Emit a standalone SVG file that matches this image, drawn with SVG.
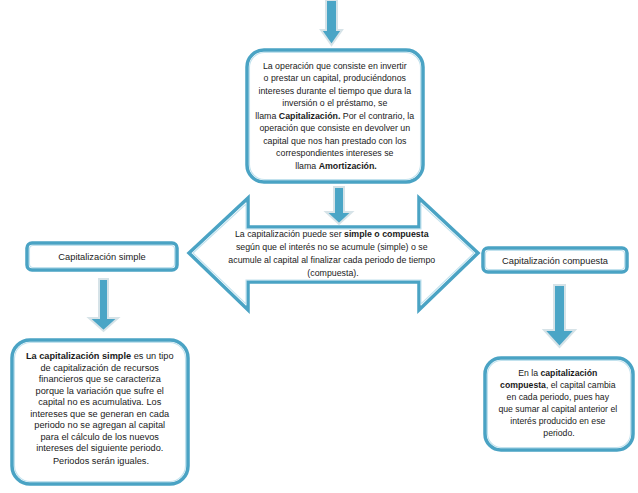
<svg xmlns="http://www.w3.org/2000/svg" width="638" height="493" viewBox="0 0 638 493">
<defs>
<style>
.box{fill:#ffffff;stroke:#4aa3c4;stroke-width:3.5}
.inner{fill:none;stroke:#c2e2ee;stroke-width:1.1}
.arr{fill:#4aa5c6;stroke:#d6e3e8;stroke-width:2;stroke-linejoin:miter}
.t{font-family:"Liberation Sans",Arial,sans-serif;fill:#1a1a1a;text-anchor:middle}
.b{font-weight:bold}
</style>
</defs>
<rect width="638" height="493" fill="#ffffff"/>
<g id="connectors">
<polygon class="arr" points="326,0 337,0 337,30 342,30 331.5,45 321,30 326,30"/>
<polygon class="arr" points="334,187 344,187 344,212 352,212 339,224 326,212 334,212"/>
<polygon class="arr" points="99,279 108,279 108,318 118,318 103.5,331 89,318 99,318"/>
<polygon class="arr" points="554,285 565,285 565,330 575,330 559.5,347 544,330 554,330"/>
</g>
<g id="node-top">
<rect class="box" x="247" y="50" width="176" height="132" rx="17"/>
<rect class="inner" x="249.5" y="52.5" width="171" height="127" rx="15"/>
<text class="t" font-size="8.8">
<tspan x="336" y="69">La operación que consiste en invertir</tspan>
<tspan x="336" y="81">o prestar un capital, produciéndonos</tspan>
<tspan x="336" y="93.5">intereses durante el tiempo que dura la</tspan>
<tspan x="336" y="106">inversión o el préstamo, se</tspan>
<tspan x="336" y="118.5">llama <tspan class="b">Capitalización.</tspan>  Por el contrario, la</tspan>
<tspan x="336" y="131">operación que consiste en devolver un</tspan>
<tspan x="336" y="143.5">capital que nos han prestado con los</tspan>
<tspan x="336" y="156">correspondientes intereses se</tspan>
<tspan x="336" y="168.5">llama <tspan class="b">Amortización.</tspan></tspan>
</text>
</g>
<g id="node-double-arrow">
<polygon class="box" points="189,253 248,198 248,227 419,227 419,198 478,253 419,310 419,282 248,282 248,310" stroke-linejoin="miter"/>
<polygon class="inner" points="193,253 246,204 246,229 421,229 421,204 474,253 421,304 421,280 246,280 246,304"/>
<text class="t" font-size="8.8">
<tspan x="333" y="237">La capitalización puede ser <tspan class="b">simple o compuesta</tspan></tspan>
<tspan x="333" y="250">según que el interés no se acumule (simple) o se</tspan>
<tspan x="333" y="263">acumule al capital al finalizar cada periodo de tiempo</tspan>
<tspan x="333" y="276">(compuesta).</tspan>
</text>
</g>
<g id="node-simple-label">
<rect class="box" x="27" y="243" width="150" height="27" rx="5"/>
<rect class="inner" x="29.5" y="245.5" width="145" height="22" rx="3.5"/>
<text class="t" font-size="9.3" x="102" y="260">Capitalización simple</text>
</g>
<g id="node-compuesta-label">
<rect class="box" x="483" y="248" width="144" height="24" rx="5"/>
<rect class="inner" x="485.5" y="250.5" width="139" height="19" rx="3.5"/>
<text class="t" font-size="9.3" x="555" y="263.5">Capitalización compuesta</text>
</g>
<g id="node-simple-desc">
<rect class="box" x="12" y="340" width="176" height="144" rx="18"/>
<rect class="inner" x="14.5" y="342.5" width="171" height="139" rx="16"/>
<text class="t" font-size="9.2">
<tspan x="101" y="359"><tspan class="b">La capitalización simple</tspan> es un tipo</tspan>
<tspan x="101" y="370.5">de capitalización de recursos</tspan>
<tspan x="101" y="382">financieros que se caracteriza</tspan>
<tspan x="101" y="393.5">porque la variación que sufre el</tspan>
<tspan x="101" y="405">capital no es acumulativa. Los</tspan>
<tspan x="101" y="416.5">intereses que se generan en cada</tspan>
<tspan x="101" y="428">periodo no se agregan al capital</tspan>
<tspan x="101" y="439.5">para el cálculo de los nuevos</tspan>
<tspan x="101" y="451">intereses del siguiente periodo.</tspan>
<tspan x="101" y="463.5">Periodos serán iguales.</tspan>
</text>
</g>
<g id="node-compuesta-desc">
<rect class="box" x="485" y="358" width="148" height="92" rx="16"/>
<rect class="inner" x="487.5" y="360.5" width="143" height="87" rx="14"/>
<text class="t" font-size="8.7">
<tspan x="559" y="376">En la <tspan class="b">capitalización</tspan></tspan>
<tspan x="559" y="388"><tspan class="b">compuesta</tspan>, el capital cambia</tspan>
<tspan x="559" y="400">en cada periodo, pues hay</tspan>
<tspan x="559" y="412">que sumar al capital anterior el</tspan>
<tspan x="559" y="424">interés producido en ese</tspan>
<tspan x="559" y="436">periodo.</tspan>
</text>
</g>
</svg>
